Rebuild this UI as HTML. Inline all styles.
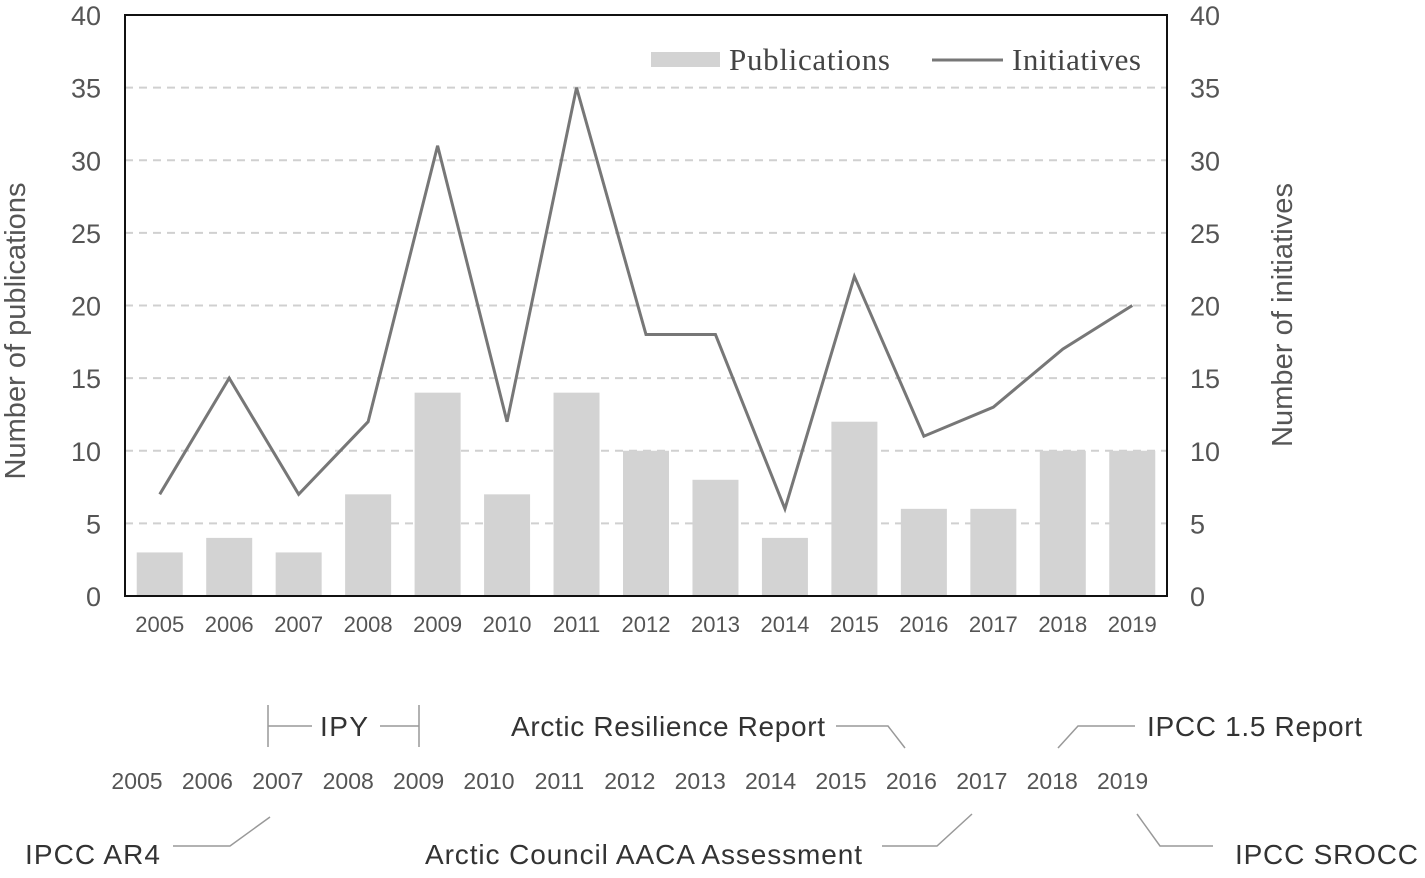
<!DOCTYPE html>
<html><head><meta charset="utf-8"><style>
body{margin:0;background:#fff;}
svg text{font-family:"Liberation Sans",sans-serif;}
</style></head><body>
<svg id="chart" width="1425" height="873" xmlns="http://www.w3.org/2000/svg">
<g id="grid"></g>
<g id="bars"></g>
<g id="line"></g>
<g id="axes"></g>
<text transform="translate(25,331) rotate(-90)" text-anchor="middle" font-size="29" fill="#555" textLength="297">Number of publications</text>
<text transform="translate(1292,315) rotate(-90)" text-anchor="middle" font-size="29" fill="#555" textLength="264">Number of initiatives</text>
<g>
<rect x="651" y="52" width="69" height="15" fill="#d3d3d3"/>
<text x="729" y="70" font-size="31" fill="#444" textLength="161" style="font-family:'Liberation Serif',serif">Publications</text>
<line x1="932" y1="60" x2="1003" y2="60" stroke="#777" stroke-width="3"/>
<text x="1012" y="70" font-size="31" fill="#444" textLength="129" style="font-family:'Liberation Serif',serif">Initiatives</text>
</g>
<g id="timeline"></g>
<g stroke="#999" stroke-width="1.5" fill="none">
<polyline points="268,705 268,747"/><polyline points="268,726 312,726"/><polyline points="380,726 419,726"/><polyline points="419,705 419,747"/>
<polyline points="836,726 888,726 905,748"/>
<polyline points="1058,748 1078,726 1135,726"/>
<polyline points="173,846 230,846 270,817"/>
<polyline points="882,846 937,846 972,814"/>
<polyline points="1137,814 1160,846 1213,846"/>
</g>
<g font-size="28" fill="#333">
<text x="320" y="736" textLength="48">IPY</text>
<text x="511" y="736" textLength="314">Arctic Resilience Report</text>
<text x="1147" y="736" textLength="215">IPCC 1.5 Report</text>
<text x="25" y="864" textLength="135">IPCC AR4</text>
<text x="425" y="864" textLength="437">Arctic Council AACA Assessment</text>
<text x="1235" y="864" textLength="183">IPCC SROCC</text>
</g>
</svg>
<script>
const years=["2005","2006","2007","2008","2009","2010","2011","2012","2013","2014","2015","2016","2017","2018","2019"];
const publications=[3,4,3,7,14,7,14,10,8,4,12,6,6,10,10];
const initiatives=[7,15,7,12,31,12,35,18,18,6,22,11,13,17,20];
const yTicks=[0,5,10,15,20,25,30,35,40];
const NS="http://www.w3.org/2000/svg";
const L=125,R=1167,T=15,B=596,band=(R-L)/years.length;
const x=i=>L+band*(i+0.5);
const y=v=>B-(B-T)*v/40;
function mk(tag,attrs,parent,txt){const e=document.createElementNS(NS,tag);for(const k in attrs)e.setAttribute(k,attrs[k]);if(txt!==undefined)e.textContent=txt;parent.appendChild(e);return e;}
const grid=document.getElementById('grid'),axes=document.getElementById('axes');
yTicks.forEach(t=>{
 if(t>0&&t<40){const g=mk('line',{x1:L,x2:R,y1:y(t),y2:y(t),stroke:'#d0d0d0','stroke-width':2,'stroke-dasharray':'8,6'},grid);
 
 }
 const a=mk('text',{x:101,y:y(t)+10,'text-anchor':'end','font-size':27,fill:'#555'},axes,t);
 
 
 const b=mk('text',{x:1190,y:y(t)+10,'font-size':27,fill:'#555'},axes,t);
 
 
});
const bars=document.getElementById('bars');
publications.forEach((v,i)=>{
 const r=mk('rect',{x:x(i)-23,y:y(v),width:46,height:B-y(v),fill:'#d3d3d3'},bars);
 
 
 const t=mk('text',{x:x(i),y:632,'text-anchor':'middle','font-size':22,fill:'#555'},axes,years[i]);
 
 
});
const pl=mk('polyline',{points:initiatives.map((v,i)=>x(i)+','+y(v)).join(' '),fill:'none',stroke:'#777','stroke-width':3,'stroke-linejoin':'miter'},document.getElementById('line'));


const box=mk('rect',{x:L,y:T,width:R-L,height:B-T,fill:'none',stroke:'#111','stroke-width':2},axes);


const tl=document.getElementById('timeline');
years.forEach((yr,i)=>{
 const t=mk('text',{x:137+i*70.4,y:789,'text-anchor':'middle','font-size':23,fill:'#555'},tl,yr);
 
 
});
</script>
</body></html>
